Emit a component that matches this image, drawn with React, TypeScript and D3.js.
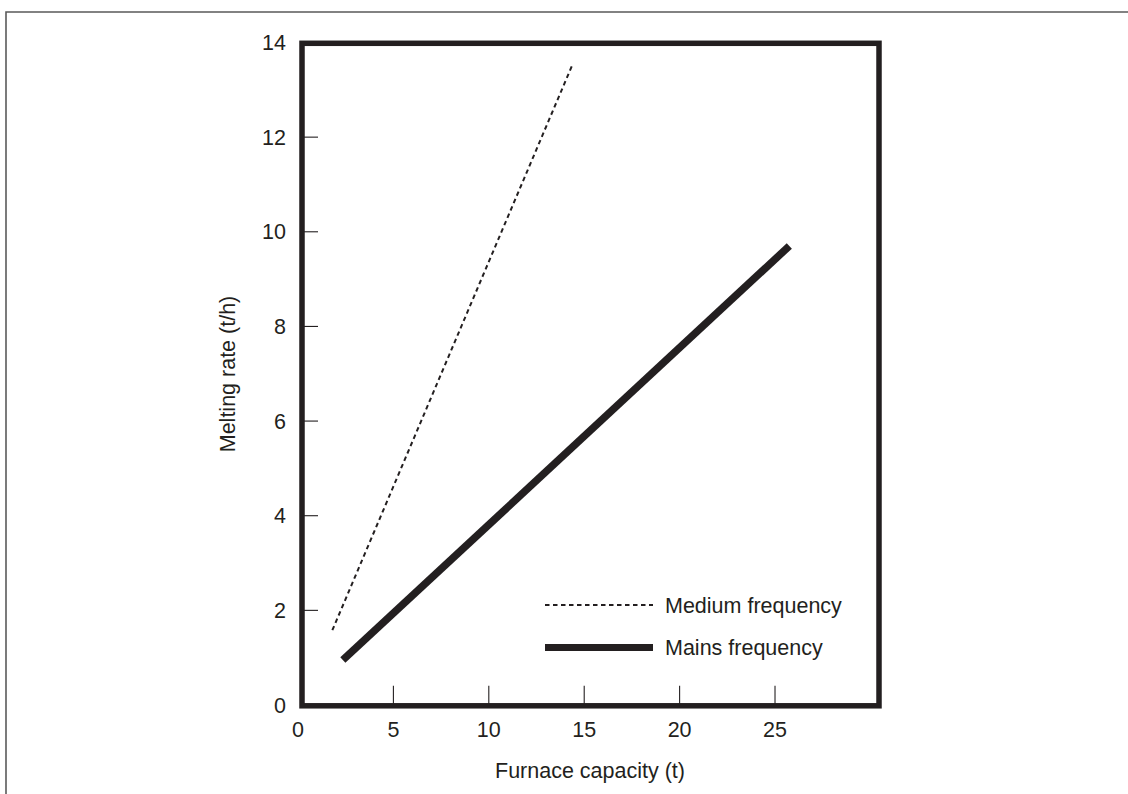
import React from "react";
import * as d3 from "d3";

const xTicks = [0, 5, 10, 15, 20, 25];
const yTicks = [0, 2, 4, 6, 8, 10, 12, 14];
const mediumFrequency = [
  { x: 1.8, y: 1.58 },
  { x: 14.35, y: 13.5 },
];
const mainsFrequency = [
  { x: 2.35, y: 0.95 },
  { x: 25.75, y: 9.7 },
];
const legendItems = ["Medium frequency", "Mains frequency"];

const W = 1128;
const H = 794;
const INK = "#231f20";
const FONT = "'Liberation Sans', Arial, Helvetica, sans-serif";
const FS = 21.5;

export default function App() {
  const x = d3.scaleLinear().domain([0, 30.45]).range([298, 879]);
  const y = d3.scaleLinear().domain([0, 14]).range([705, 42.5]);
  const line = d3
    .line<{ x: number; y: number }>()
    .x((d) => x(d.x))
    .y((d) => y(d.y));

  const frame = { left: 302, right: 879, top: 43.3, bottom: 705.8 };

  return (
    <svg
      width={W}
      height={H}
      style={{ position: "absolute", left: 0, top: 0, background: "#fff" }}
      fontFamily={FONT}
    >
      <rect x={0} y={0} width={W} height={H} fill="#fff" />
      {/* outer border (top and left visible) */}
      <path d={`M6,${H + 5} V12 H${W + 5}`} fill="none" stroke="#5a5a5a" strokeWidth={1.6} />

      {/* ticks */}
      {xTicks
        .filter((t) => t !== 0)
        .map((t) => (
          <line key={"xt" + t} x1={x(t)} x2={x(t)} y1={frame.bottom} y2={frame.bottom - 20} stroke={INK} strokeWidth={1.1} />
        ))}
      {yTicks
        .filter((t) => t !== 0 && t !== 14)
        .map((t) => (
          <line key={"yt" + t} x1={frame.left} x2={frame.left + 16} y1={y(t)} y2={y(t)} stroke={INK} strokeWidth={1.1} />
        ))}

      {/* tick labels */}
      {xTicks.map((t) => (
        <text key={"xl" + t} x={x(t)} y={737} textAnchor="middle" fontSize={FS} fill={INK}>
          {t}
        </text>
      ))}
      {yTicks.map((t) => (
        <text key={"yl" + t} x={286} y={y(t) + 7.7} textAnchor="end" fontSize={FS} fill={INK}>
          {t}
        </text>
      ))}

      {/* axis titles */}
      <text x={590} y={778} textAnchor="middle" fontSize={FS} fill={INK}>
        Furnace capacity (t)
      </text>
      <text transform={`translate(235,374) rotate(-90)`} textAnchor="middle" fontSize={FS} fill={INK}>
        Melting rate (t/h)
      </text>

      {/* data lines */}
      <path d={line(mediumFrequency) || ""} fill="none" stroke={INK} strokeWidth={2} strokeDasharray="4.5,3.5" />
      <path d={line(mainsFrequency) || ""} fill="none" stroke={INK} strokeWidth={7.5} strokeLinecap="butt" />

      {/* legend */}
      <line x1={545} x2={653} y1={605} y2={605} stroke={INK} strokeWidth={2} strokeDasharray="4.5,3.5" />
      <line x1={545} x2={653} y1={647.5} y2={647.5} stroke={INK} strokeWidth={7} />
      <text x={665} y={612.7} fontSize={FS} fill={INK}>
        {legendItems[0]}
      </text>
      <text x={665} y={655.3} fontSize={FS} fill={INK}>
        {legendItems[1]}
      </text>

      {/* frame */}
      <rect
        x={frame.left}
        y={frame.top}
        width={frame.right - frame.left}
        height={frame.bottom - frame.top}
        fill="none"
        stroke={INK}
        strokeWidth={5.5}
      />
    </svg>
  );
}
